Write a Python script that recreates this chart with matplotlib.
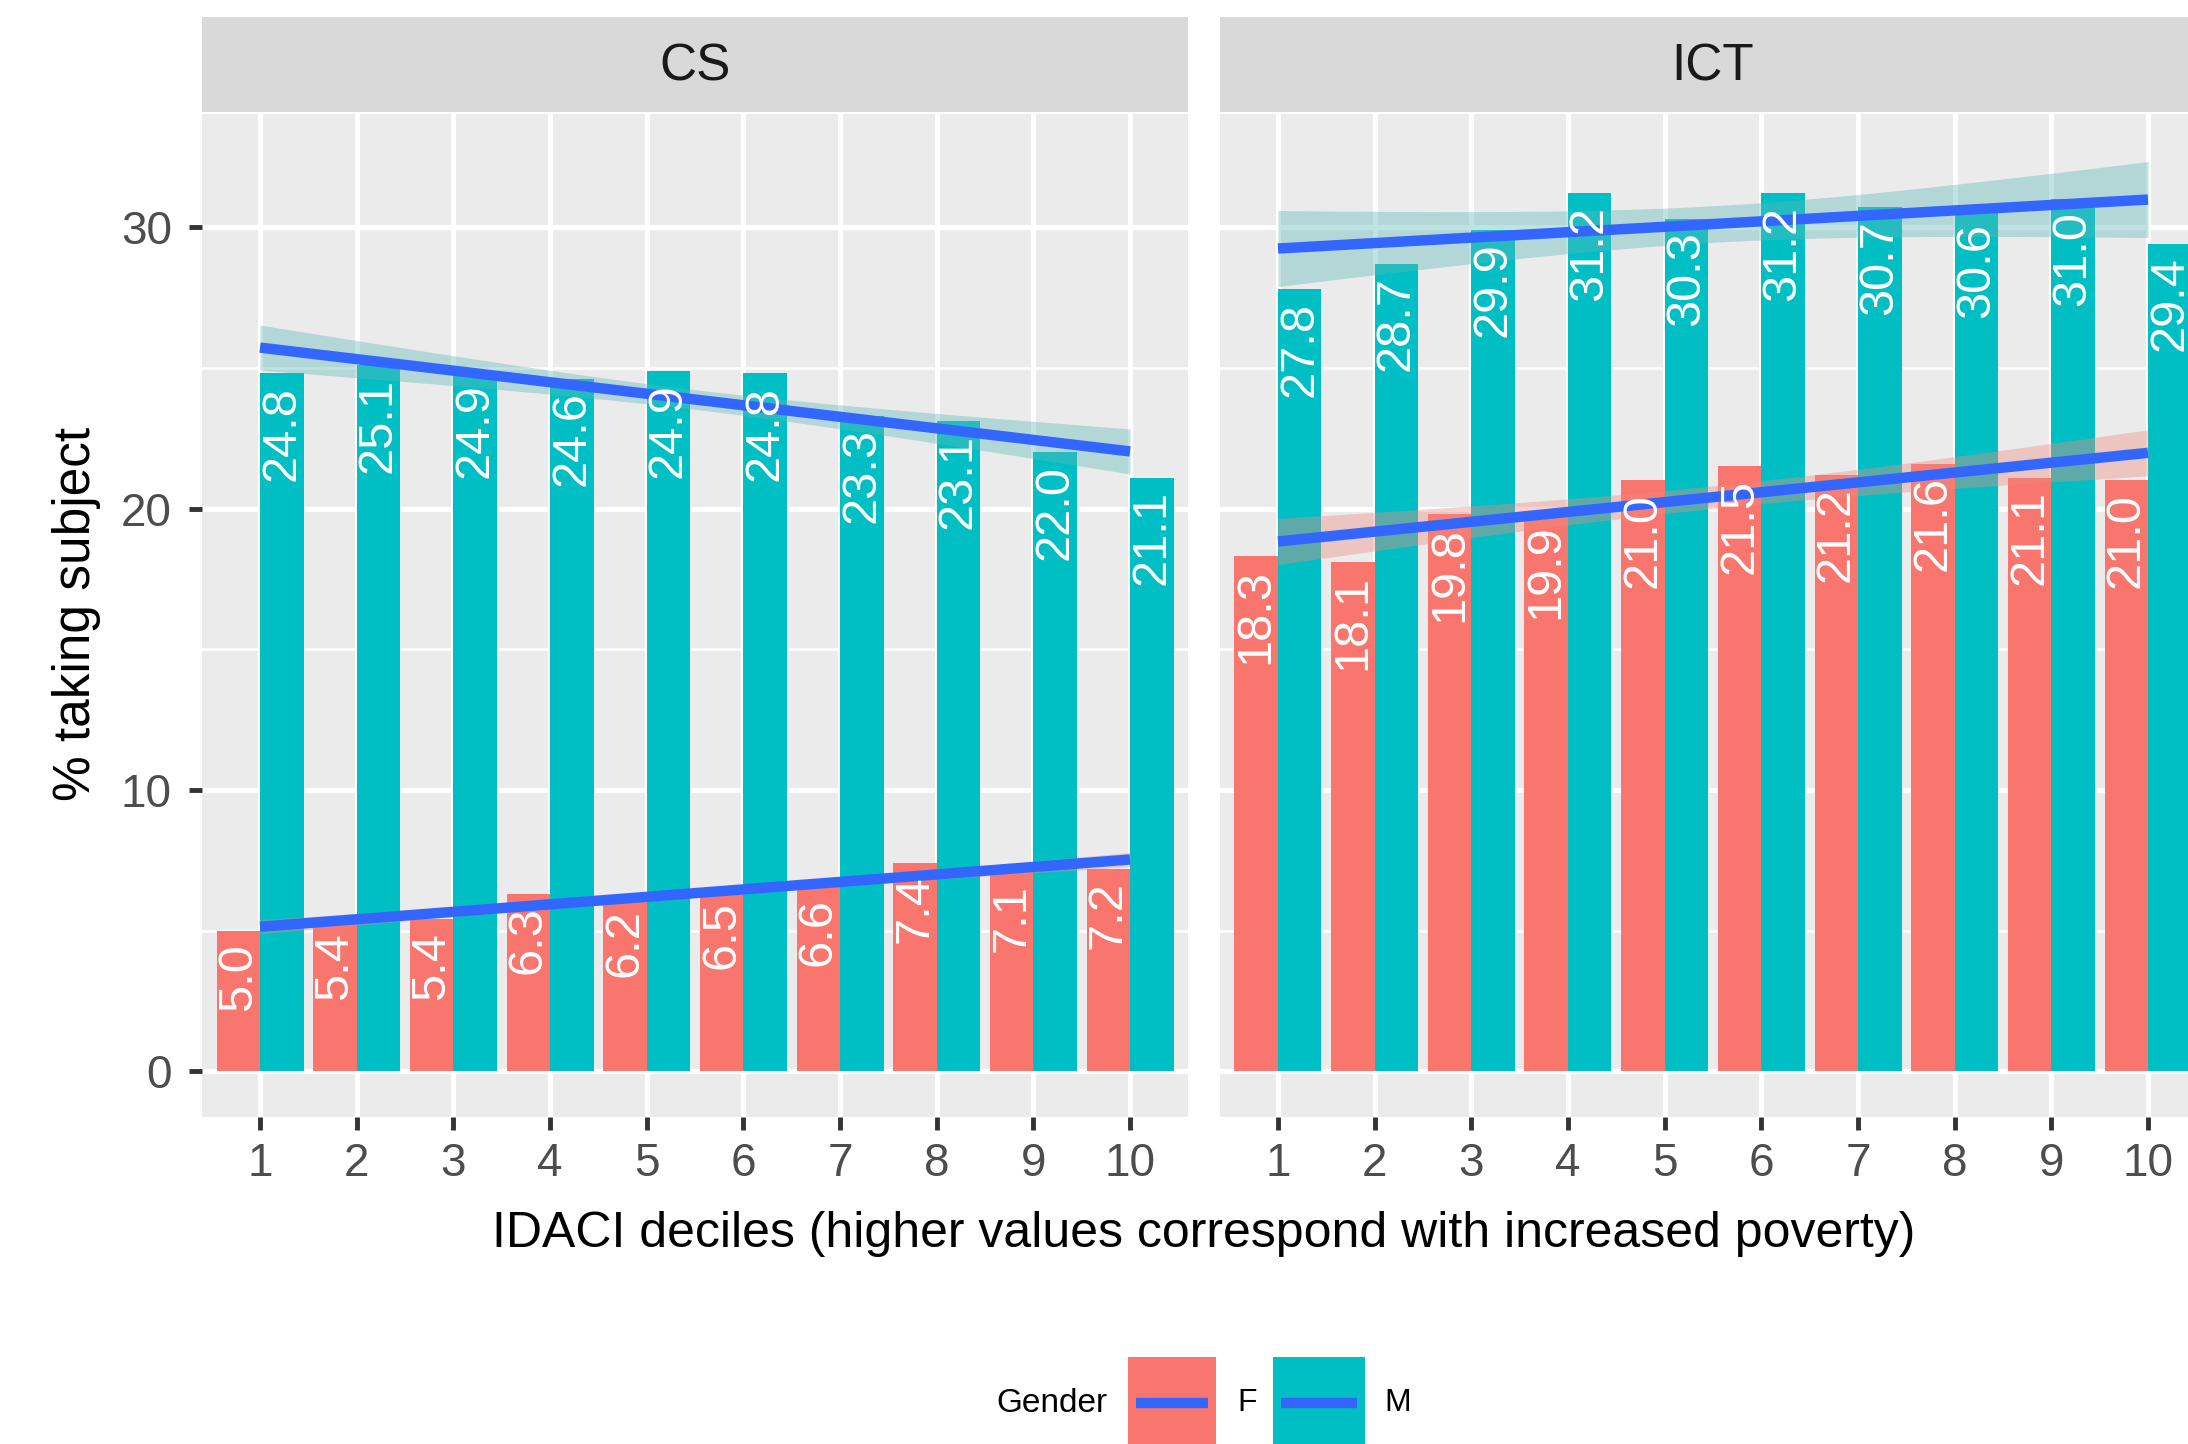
import numpy as np
import matplotlib
matplotlib.use("Agg")
import matplotlib.pyplot as plt
from matplotlib.patches import Rectangle
from matplotlib.lines import Line2D

plt.rcParams['font.family'] = ['Liberation Sans', 'DejaVu Sans']

# ---- data -------------------------------------------------------------
deciles = [1, 2, 3, 4, 5, 6, 7, 8, 9, 10]
subjects = ["CS", "ICT"]
genders = ["F", "M"]

cs_f = [5.0, 5.4, 5.4, 6.3, 6.2, 6.5, 6.6, 7.4, 7.1, 7.2]
cs_m = [24.8, 25.1, 24.9, 24.6, 24.9, 24.8, 23.3, 23.1, 22.0, 21.1]
ict_f = [18.3, 18.1, 19.8, 19.9, 21.0, 21.5, 21.2, 21.6, 21.1, 21.0]
ict_m = [27.8, 28.7, 29.9, 31.2, 30.3, 31.2, 30.7, 30.6, 31.0, 29.4]

# linear trend (fitted on school-level data): value at decile 1 and decile 10
cs_trend_f = [5.14, 7.53]
cs_trend_m = [25.72, 22.03]
ict_trend_f = [18.83, 21.98]
ict_trend_m = [29.24, 30.98]

# 95% confidence half-width of the trend: at the range ends, at the centre
cs_ci_f = [0.25, 0.12]
cs_ci_m = [0.80, 0.35]
ict_ci_f = [0.82, 0.40]
ict_ci_m = [1.35, 0.65]

values = {"CS": {"F": cs_f, "M": cs_m}, "ICT": {"F": ict_f, "M": ict_m}}
trends = {"CS": {"F": cs_trend_f, "M": cs_trend_m},
          "ICT": {"F": ict_trend_f, "M": ict_trend_m}}
cis = {"CS": {"F": cs_ci_f, "M": cs_ci_m}, "ICT": {"F": ict_ci_f, "M": ict_ci_m}}

# ---- style ------------------------------------------------------------
fill = {"F": "#F8766D", "M": "#00BFC4"}
band = {"F": "#EE8A80", "M": "#5FB8BA"}
line_col = "#3366FF"
panel_bg = "#EBEBEB"
strip_bg = "#D9D9D9"
tick_txt = "#4D4D4D"
tick_col = "#333333"

W, H = 2188, 1444
fig = plt.figure(figsize=(W / 100, H / 100), dpi=100)
fig.patch.set_facecolor("white")


def px_axes(x0, y0, x1, y1):
    return fig.add_axes([x0 / W, 1 - y1 / H, (x1 - x0) / W, (y1 - y0) / H])


panel_boxes = [(202, 114, 1188, 1117), (1220, 114, 2206, 1117)]
strip_boxes = [(202, 17, 1188, 112), (1220, 17, 2206, 112)]

bar_w = 0.45
x = np.array(deciles, dtype=float)
xs = np.linspace(1, 10, 100)
xc = (x[0] + x[-1]) / 2
xh = (x[-1] - x[0]) / 2

for i, subj in enumerate(subjects):
    ax = px_axes(*panel_boxes[i])
    ax.set_facecolor(panel_bg)
    for s in ax.spines.values():
        s.set_visible(False)
    ax.set_xlim(0.4, 10.6)
    ax.set_ylim(-1.62, 34.02)
    ax.set_xticks(deciles)
    ax.set_xticklabels([str(d) for d in deciles])
    ax.set_yticks([0, 10, 20, 30])
    ax.set_yticks([5, 15, 25], minor=True)
    ax.set_axisbelow(True)
    ax.yaxis.grid(True, which="major", color="white", lw=3.7)
    ax.yaxis.grid(True, which="minor", color="white", lw=1.85)
    ax.xaxis.grid(True, which="major", color="white", lw=3.7)
    ax.tick_params(axis="both", which="major", direction="out", length=9.7,
                   width=3.5, color=tick_col, labelsize=33, labelcolor=tick_txt)
    ax.tick_params(axis="x", pad=8)
    ax.tick_params(axis="y", pad=12)
    ax.tick_params(axis="y", which="minor", length=0)
    if i > 0:
        ax.tick_params(axis="y", which="both", left=False, labelleft=False)

    # dodged bars: F left of the tick, M right of it
    for g, off in (("F", -bar_w / 2), ("M", bar_w / 2)):
        ax.bar(x + off, values[subj][g], width=bar_w, color=fill[g],
               zorder=2, linewidth=0)

    # trend ribbons and lines
    for g in genders:
        a, b = trends[subj][g]
        e, c = cis[subj][g]
        fit = a + (b - a) * (xs - x[0]) / (x[-1] - x[0])
        hw = np.sqrt(c ** 2 + (e ** 2 - c ** 2) * ((xs - xc) / xh) ** 2)
        ax.fill_between(xs, fit - hw, fit + hw, color=band[g], alpha=0.4,
                        linewidth=0, zorder=3)
    for g in genders:
        a, b = trends[subj][g]
        fit = a + (b - a) * (xs - x[0]) / (x[-1] - x[0])
        ax.plot(xs, fit, color=line_col, lw=7.5, zorder=4,
                solid_capstyle="butt")

    # value labels, written upward inside each bar
    for g, off in (("F", -bar_w / 2), ("M", bar_w / 2)):
        for xi, v in zip(x, values[subj][g]):
            ax.annotate(f"{v:.1f}", xy=(xi + off, v), xytext=(0, -9),
                        textcoords="offset points", rotation=90,
                        ha="center", va="top", color="white", fontsize=35,
                        zorder=6, annotation_clip=False)

    # facet strip
    sax = px_axes(*strip_boxes[i])
    sax.set_facecolor(strip_bg)
    sax.set_xticks([])
    sax.set_yticks([])
    for s in sax.spines.values():
        s.set_visible(False)
    sax.text(0.5, 0.47, subj, ha="center", va="center", fontsize=37,
             color="#1A1A1A", transform=sax.transAxes)

# axis titles
fig.text(1204 / W, 1 - 1234 / H,
         "IDACI deciles (higher values correspond with increased poverty)",
         ha="center", va="center", fontsize=36, color="black")
fig.text(77 / W, 1 - 614 / H, "% taking subject", ha="center", va="center",
         rotation=90, fontsize=37, color="black")

# legend
leg_y = 1 - 1403 / H
fig.text(996 / W, leg_y, "Gender", ha="left", va="center",
         fontsize=24, color="black")
key_boxes = {"F": (1128, 1216), "M": (1273, 1365)}
label_x = {"F": 1237, "M": 1384}
for g in genders:
    kx0, kx1 = key_boxes[g]
    fig.add_artist(Rectangle((kx0 / W, 1 - 1470 / H), (kx1 - kx0) / W,
                             (1470 - 1357) / H, transform=fig.transFigure,
                             facecolor=fill[g], edgecolor="none"))
    fig.add_artist(Line2D([(kx0 + 8) / W, (kx1 - 8) / W], [leg_y, leg_y],
                          transform=fig.transFigure, color=line_col, lw=7.5,
                          solid_capstyle="butt"))
    fig.text(label_x[g] / W, leg_y, g, ha="left", va="center",
             fontsize=23, color="black")

fig.savefig("out.png", dpi=100)
